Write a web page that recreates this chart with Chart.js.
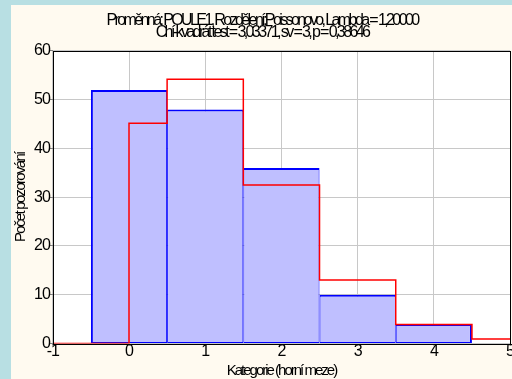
<!DOCTYPE html>
<html>
<head>
<meta charset="utf-8">
<script src="https://cdn.jsdelivr.net/npm/chart.js@4/dist/chart.umd.min.js"></script>
<style>
  html, body { margin: 0; padding: 0; background: #b8dfe3; }
  #wrap { width: 512px; height: 379px; position: relative; }
  canvas { display: block; }
</style>
</head>
<body>
<div id="wrap"><canvas id="c" width="512" height="379"></canvas></div>
<script>
// ---- data ----
const titleLines = [
  "Proměnná: POULE1, Rozdělení:Poissonovo, Lambda = 1,20000",
  "Chí-kvadrát test = 3,03371, sv = 3, p = 0,38646"
];
const xAxisTitle = "Kategorie (horní meze)";
const yAxisTitle = "Počet pozorování";
const categories = [0, 1, 2, 3, 4];
const observed = [52, 48, 36, 10, 4];
const expectedEdges = [0, 0.5, 1.5, 2.5, 3.5, 4.5, 5];
const expected = [45.18, 54.22, 32.53, 13.01, 3.90, 0.93];
const xTicks = [-1, 0, 1, 2, 3, 4, 5];
const yTicks = [0, 10, 20, 30, 40, 50, 60];

// ---- build datasets ----
const barData = categories.map((c, i) => ({ x: c, y: observed[i] }));
const stepData = [{ x: xTicks[0], y: 0 }, { x: expectedEdges[0], y: 0 }];
expected.forEach((v, i) => {
  stepData.push({ x: expectedEdges[i], y: v });
  stepData.push({ x: expectedEdges[i + 1], y: v });
});

const FONT = "'Liberation Sans', Arial, sans-serif";

function wrapSpacing(obj, method, spacing) {
  if (!obj || obj['_w_' + method]) return;
  const orig = obj[method];
  obj[method] = function (...args) {
    const ctx = this.ctx;
    const prev = ctx.letterSpacing;
    ctx.letterSpacing = spacing;
    const r = orig.apply(this, args);
    ctx.letterSpacing = prev;
    return r;
  };
  obj['_w_' + method] = true;
}

const bgPlugin = {
  id: 'bg',
  beforeLayout(chart) { chart.ctx.letterSpacing = '-1px'; },
  beforeDraw(chart) {
    const ctx = chart.ctx;
    wrapSpacing(chart.titleBlock, 'draw', '-2.6px');
    wrapSpacing(chart.scales.x, 'drawTitle', '-2px');
    wrapSpacing(chart.scales.y, 'drawTitle', '-1.7px');
    ctx.save();
    ctx.fillStyle = '#b8dfe3';
    ctx.fillRect(0, 0, chart.width, chart.height);
    ctx.fillStyle = '#fffaf0';
    ctx.fillRect(11, 5, chart.width - 11, chart.height - 5);
    const a = chart.chartArea;
    ctx.fillStyle = '#ffffff';
    ctx.fillRect(a.left, a.top, a.right - a.left, a.bottom - a.top);
    ctx.restore();
    ctx.letterSpacing = '-1px';
  },
  afterDatasetsDraw(chart) {
    const ctx = chart.ctx;
    const a = chart.chartArea;
    ctx.save();
    ctx.strokeStyle = '#000000';
    ctx.lineWidth = 1;
    ctx.strokeRect(Math.round(a.left) + 0.5, Math.round(a.top) + 0.5,
                   Math.round(a.right - a.left), Math.round(a.bottom - a.top));
    ctx.restore();
  }
};

const lastBar = categories.length - 1;

new Chart(document.getElementById('c'), {
  type: 'bar',
  data: {
    datasets: [
      {
        type: 'line',
        data: stepData,
        borderColor: '#ff0000',
        borderWidth: 1.5,
        pointRadius: 0,
        tension: 0,
        fill: false,
        order: 0
      },
      {
        type: 'bar',
        data: barData,
        backgroundColor: '#bfbfff',
        borderColor: '#0000ff',
        borderWidth: (c) => ({
          top: 2, bottom: 1,
          left: c.dataIndex === 0 ? 2 : 1,
          right: c.dataIndex === lastBar ? 2 : 1
        }),
        borderSkipped: false,
        barPercentage: 1,
        categoryPercentage: 1,
        inflateAmount: 0,
        order: 1
      }
    ]
  },
  options: {
    responsive: false,
    animation: false,
    devicePixelRatio: 1,
    layout: { padding: { left: 12, right: 0, top: 7, bottom: 0 } },
    plugins: {
      legend: { display: false },
      tooltip: { enabled: false },
      title: {
        display: true,
        text: titleLines,
        color: '#000000',
        font: { family: FONT, size: 16, weight: 'normal', lineHeight: 0.78 },
        padding: { top: 7, bottom: 12 }
      }
    },
    scales: {
      x: {
        type: 'linear',
        min: -1, max: 5,
        offset: false,
        afterBuildTicks(s) { s.ticks = xTicks.map(v => ({ value: v })); },
        grid: { color: '#c8c8c8', offset: false, tickLength: 2, tickColor: '#808080' },
        border: { display: false },
        ticks: { color: '#000000', font: { family: FONT, size: 16, lineHeight: 1.0 }, padding: -2, maxRotation: 0 },
        title: { display: true, text: xAxisTitle, color: '#000000', font: { family: FONT, size: 15, lineHeight: 1.1 }, padding: { top: 5, bottom: 0 } }
      },
      y: {
        min: 0, max: 60,
        afterBuildTicks(s) { s.ticks = yTicks.map(v => ({ value: v })); },
        grid: { color: '#c8c8c8', tickLength: 3, tickColor: '#808080' },
        border: { display: false },
        ticks: { color: '#000000', font: { family: FONT, size: 16 }, padding: 0 },
        title: { display: true, text: yAxisTitle, color: '#000000', font: { family: FONT, size: 15 }, padding: { top: 0, bottom: 4 } }
      }
    }
  },
  plugins: [bgPlugin]
});
</script>
</body>
</html>
